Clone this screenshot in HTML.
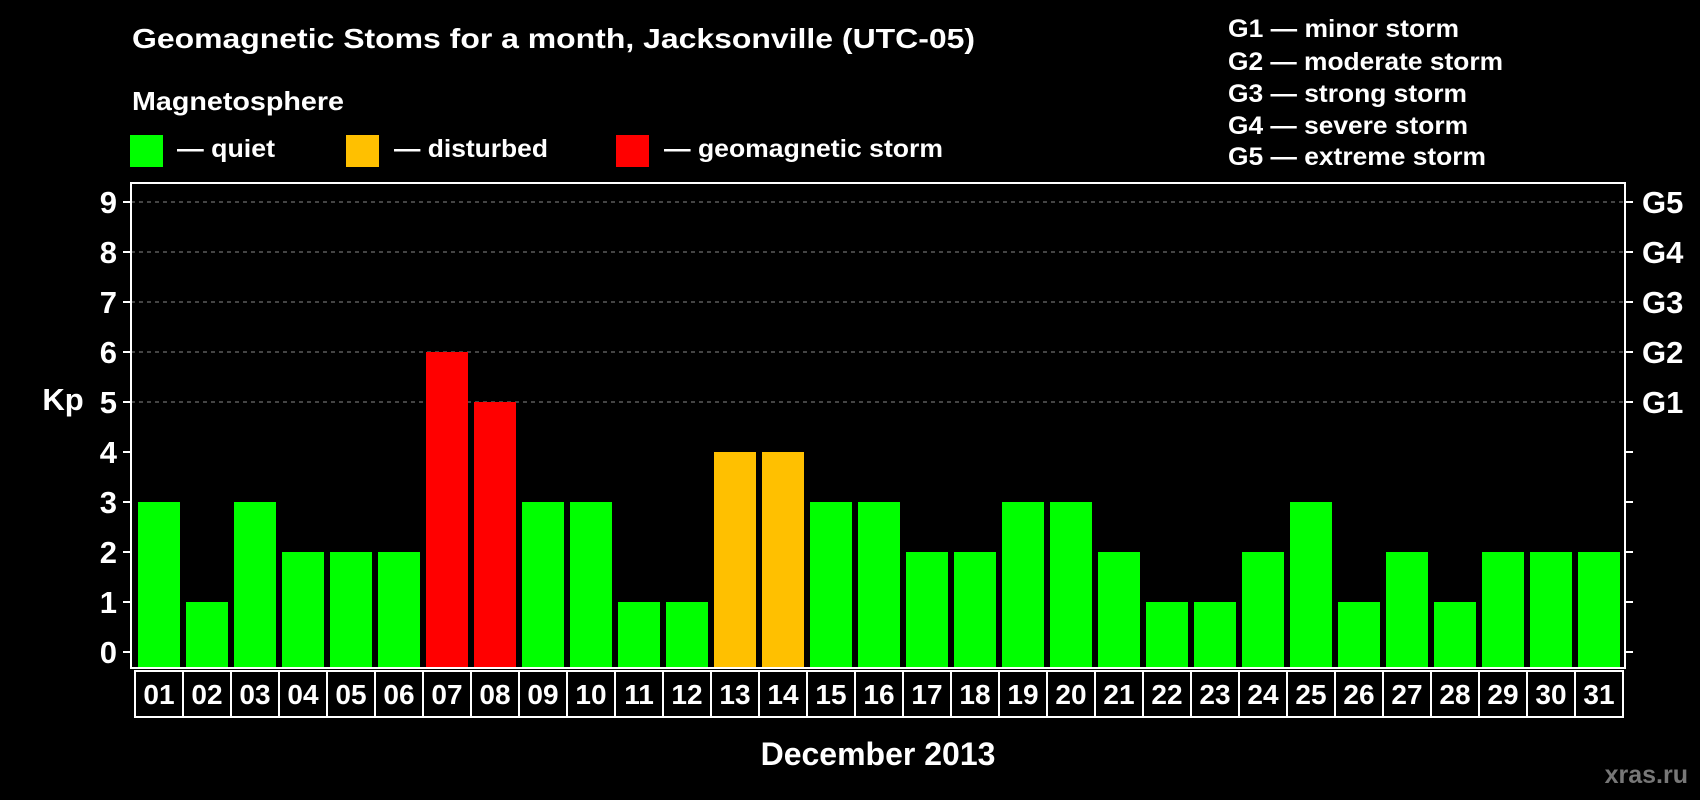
<!DOCTYPE html>
<html><head><meta charset="utf-8"><style>
html,body{margin:0;padding:0;background:#000;}
svg{display:block;font-family:"Liberation Sans",sans-serif;font-weight:bold;}
</style></head><body>
<svg id="chart" width="1700" height="800" viewBox="0 0 1700 800">
<rect width="1700" height="800" fill="#000"/>
<text x="132" y="48" fill="#fff" font-size="28" textLength="843" lengthAdjust="spacingAndGlyphs">Geomagnetic Stoms for a month, Jacksonville (UTC-05)</text>
<text x="132" y="110" fill="#fff" font-size="26" textLength="212" lengthAdjust="spacingAndGlyphs">Magnetosphere</text>
<g><rect x="130" y="135" width="33" height="32" fill="#00ff00"/><text x="177" y="157" fill="#fff" font-size="25" textLength="98" lengthAdjust="spacingAndGlyphs">— quiet</text></g>
<g><rect x="346" y="135" width="33" height="32" fill="#ffc000"/><text x="394" y="157" fill="#fff" font-size="25" textLength="154" lengthAdjust="spacingAndGlyphs">— disturbed</text></g>
<g><rect x="616" y="135" width="33" height="32" fill="#ff0000"/><text x="664" y="157" fill="#fff" font-size="25" textLength="279" lengthAdjust="spacingAndGlyphs">— geomagnetic storm</text></g>
<g fill="#fff" font-size="25">
<text x="1228" y="37" textLength="231" lengthAdjust="spacingAndGlyphs">G1 — minor storm</text>
<text x="1228" y="70" textLength="275" lengthAdjust="spacingAndGlyphs">G2 — moderate storm</text>
<text x="1228" y="102" textLength="239" lengthAdjust="spacingAndGlyphs">G3 — strong storm</text>
<text x="1228" y="134" textLength="240" lengthAdjust="spacingAndGlyphs">G4 — severe storm</text>
<text x="1228" y="165" textLength="258" lengthAdjust="spacingAndGlyphs">G5 — extreme storm</text>
</g>
<text x="63" y="410" fill="#fff" font-size="31" text-anchor="middle">Kp</text>
<g id="grid"></g><g id="bars"></g><g id="axes"></g><g id="xlabels"></g>
<text x="878" y="765" fill="#fff" font-size="32" text-anchor="middle">December 2013</text>
<text x="1688" y="783" fill="#777" font-size="25" text-anchor="end">xras.ru</text>
</svg>
<script>
const days = ["01","02","03","04","05","06","07","08","09","10","11","12","13","14","15","16","17","18","19","20","21","22","23","24","25","26","27","28","29","30","31"];
const kpValues = [3,1,3,2,2,2,6,5,3,3,1,1,4,4,3,3,2,2,3,3,2,1,1,2,3,1,2,1,2,2,2];
const yTicks = [0,1,2,3,4,5,6,7,8,9];
const gLabels = ["","","","","","G1","G2","G3","G4","G5"];
const NS="http://www.w3.org/2000/svg";
const L=131,R=1625,T=183,B=668,Y0=652,Y9=202;
const y=v=>Y0-(Y0-Y9)*v/9;
const pitch=(R-L-6)/days.length;
const x=i=>L+7+i*pitch;
function mk(t,a,p){const e=document.createElementNS(NS,t);for(const k in a)e.setAttribute(k,a[k]);(p||document.getElementById('chart')).appendChild(e);return e;}
const grid=document.getElementById('grid'),bars=document.getElementById('bars'),axes=document.getElementById('axes'),xl=document.getElementById('xlabels');
yTicks.forEach((v,i)=>{
  if(v>=5){const g=mk('line',{x1:L,x2:R,y1:y(v),y2:y(v),stroke:'#888','stroke-dasharray':'4 4','stroke-width':1},grid);
  
  }
  const t1=mk('line',{x1:L-8,x2:L,y1:y(v),y2:y(v),stroke:'#fff','stroke-width':2},axes);
  
  
  const t2=mk('line',{x1:R,x2:R+8,y1:y(v),y2:y(v),stroke:'#fff','stroke-width':2},axes);
  
  
  const lb=mk('text',{x:L-14,y:y(v)+11,fill:'#fff','font-size':31,'text-anchor':'end'},axes);
  lb.textContent=v;
  
  
  if(gLabels[i]){const gl=mk('text',{x:R+17,y:y(v)+11,fill:'#fff','font-size':31},axes);
  gl.textContent=gLabels[i];
  
  }
});
kpValues.forEach((v,i)=>{
  const c=v>=5?'#ff0000':(v>=4?'#ffc000':'#00ff00');
  const top=y(v);
  const b=mk('rect',{x:x(i),y:top,width:pitch-6,height:B-1-top,fill:c},bars);
  
  
});
const frame=mk('rect',{x:L,y:T,width:R-L,height:B-T,fill:'none',stroke:'#fff','stroke-width':2},axes);


days.forEach((d,i)=>{
  const bx=L+4+i*pitch;
  const r=mk('rect',{x:bx,y:B+3,width:pitch,height:46,fill:'none',stroke:'#fff','stroke-width':2},xl);
  
  
  const t=mk('text',{x:bx+pitch/2,y:B+36,fill:'#fff','font-size':28,'text-anchor':'middle'},xl);
  t.textContent=d;
  
  
});
</script>
</body></html>
